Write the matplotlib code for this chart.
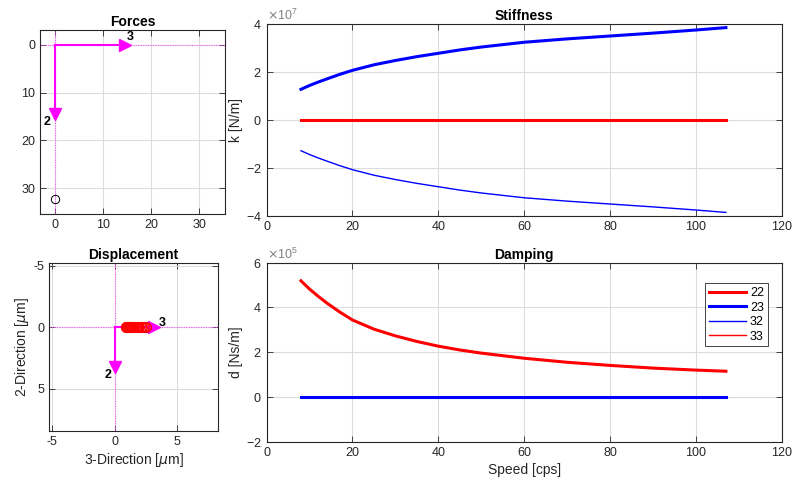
import matplotlib
matplotlib.use('Agg')
import matplotlib.pyplot as plt
import numpy as np

plt.rc('font', family=['Liberation Sans', 'DejaVu Sans'])
plt.rc('font', size=9)
plt.rc('axes', unicode_minus=False)
plt.rc('mathtext', fontset='dejavusans')

# bearing coefficients vs speed
speed = [8, 10, 12, 14, 17, 20, 25, 30, 35, 40, 45, 50, 60, 70, 80, 90, 100, 107]
k22 = [0] * 18
k23 = [1.28e7, 1.44e7, 1.58e7, 1.71e7, 1.9e7, 2.07e7, 2.3e7, 2.48e7, 2.64e7, 2.78e7, 2.92e7, 3.04e7,
	3.24e7, 3.38e7, 3.5e7, 3.62e7, 3.75e7, 3.85e7]
k32 = [-1.28e7, -1.44e7, -1.58e7, -1.71e7, -1.9e7, -2.07e7, -2.3e7, -2.48e7, -2.64e7, -2.78e7, -2.92e7, -3.04e7,
	-3.24e7, -3.38e7, -3.5e7, -3.62e7, -3.75e7, -3.85e7]
k33 = [0] * 18
d22 = [5.19e5, 4.82e5, 4.5e5, 4.2e5, 3.8e5, 3.44e5, 3.03e5, 2.73e5, 2.48e5, 2.27e5, 2.1e5, 1.96e5,
	1.73e5, 1.55e5, 1.41e5, 1.29e5, 1.2e5, 1.15e5]
d23 = [0] * 18
d32 = [0] * 18
d33 = [5.19e5, 4.82e5, 4.5e5, 4.2e5, 3.8e5, 3.44e5, 3.03e5, 2.73e5, 2.48e5, 2.27e5, 2.1e5, 1.96e5,
	1.73e5, 1.55e5, 1.41e5, 1.29e5, 1.2e5, 1.15e5]

# forces (direction 3, direction 2) and shaft position
force3 = 14.5
force2 = 14.5
pos3 = 0.0
pos2 = 32.3

# displacement orbit points [um]
disp3 = [0.9, 0.95, 1.0, 1.05, 1.1, 1.15, 1.2, 1.25, 1.3, 1.4, 1.5, 1.6, 1.7, 1.8, 1.9, 2.0, 2.1, 2.2, 2.35, 2.5]
disp2 = [0] * 20
dvec3 = 3.2
dvec2 = 3.2

TXT = '#262626'
GRID = '#dcdcdc'


def style(ax):
	for s in ax.spines.values():
		s.set_color(TXT)
		s.set_linewidth(0.8)
	ax.tick_params(direction='in', top=True, right=True, colors=TXT, labelcolor=TXT, length=4, width=0.6)
	ax.grid(True, color=GRID, linewidth=0.8)
	ax.set_axisbelow(True)


def crosshair(ax):
	ax.axhline(0, color='#ff55ff', linewidth=0.8, dashes=(1, 1.2), zorder=1.5)
	ax.axvline(0, color='#ff55ff', linewidth=0.8, dashes=(1, 1.2), zorder=1.5)


fig = plt.figure(figsize=(7.96, 4.84), dpi=100)

# --- Forces
ax1 = fig.add_axes([0.0503, 0.5579, 0.2324, 0.380])
style(ax1)
crosshair(ax1)
ax1.plot([0, force3], [0, 0], color='magenta', linewidth=1.5)
ax1.plot([force3], [0], marker='>', color='magenta', markersize=8)
ax1.plot([0, 0], [0, force2], color='magenta', linewidth=1.5)
ax1.plot([0], [force2], marker='v', color='magenta', markersize=8)
ax1.text(force3 + 1.1, -1.6, '3', fontweight='bold', ha='center', va='center', fontsize=9)
ax1.text(-1.8, force2 + 1.6, '2', fontweight='bold', ha='center', va='center', fontsize=9)
ax1.plot([pos3], [pos2], marker='o', mfc='none', mec='black', markersize=6, markeredgewidth=0.7)
ax1.set_xlim(-3.2, 35.4)
ax1.set_ylim(35.4, -3.1)
ax1.set_xticks([0, 10, 20, 30])
ax1.set_yticks([0, 10, 20, 30])
ax1.set_title('Forces', fontweight='bold', fontsize=10, pad=3)

# --- Displacement
ax2 = fig.add_axes([0.0616, 0.1095, 0.2123, 0.3477])
style(ax2)
crosshair(ax2)
ax2.plot([0, dvec3], [0, 0], color='magenta', linewidth=1.5)
ax2.plot([dvec3], [0], marker='>', color='magenta', markersize=8)
ax2.plot([0, 0], [0, dvec2], color='magenta', linewidth=1.5)
ax2.plot([0], [dvec2], marker='v', color='magenta', markersize=8)
ax2.plot(disp3, disp2, linestyle='none', marker='o', mfc='none', mec='red', markersize=7, markeredgewidth=1)
ax2.text(dvec3 + 0.6, -0.35, '3', fontweight='bold', ha='center', va='center', fontsize=9)
ax2.text(-0.5, dvec2 + 0.7, '2', fontweight='bold', ha='center', va='center', fontsize=9)
ax2.set_xlim(-5.25, 8.3)
ax2.set_ylim(8.45, -5.25)
ax2.set_xticks([-5, 0, 5])
ax2.set_yticks([-5, 0, 5])
ax2.set_xlabel(r'3-Direction [$\mu$m]', fontsize=10, color=TXT, labelpad=2)
ax2.set_ylabel(r'2-Direction [$\mu$m]', fontsize=10, color=TXT, labelpad=2)
ax2.set_title('Displacement', fontweight='bold', fontsize=10, pad=3)

# --- Stiffness
ax3 = fig.add_axes([0.335, 0.5537, 0.647, 0.3967])
style(ax3)
ax3.plot(speed, k22, color='red', linewidth=2.2)
ax3.plot(speed, k23, color='blue', linewidth=2.2)
ax3.plot(speed, k32, color='blue', linewidth=1.0)
ax3.plot(speed, k33, color='red', linewidth=1.0)
ax3.set_xlim(0, 120)
ax3.set_ylim(-4e7, 4e7)
ax3.set_yticks([-4e7, -2e7, 0, 2e7, 4e7])
ax3.ticklabel_format(axis='y', style='sci', scilimits=(0, 0), useMathText=True)
ax3.yaxis.get_offset_text().set_color('#808080')
ax3.set_ylabel('k [N/m]', fontsize=10, color=TXT, labelpad=2)
ax3.set_title('Stiffness', fontweight='bold', fontsize=10, pad=3)

# --- Damping
ax4 = fig.add_axes([0.335, 0.0874, 0.647, 0.3698])
style(ax4)
ax4.plot(speed, d22, color='red', linewidth=2.2, label='22')
ax4.plot(speed, d23, color='blue', linewidth=2.2, label='23')
ax4.plot(speed, d32, color='blue', linewidth=1.0, label='32')
ax4.plot(speed, d33, color='red', linewidth=1.0, label='33', zorder=1)
ax4.set_xlim(0, 120)
ax4.set_ylim(-2e5, 6e5)
ax4.set_yticks([-2e5, 0, 2e5, 4e5, 6e5])
ax4.ticklabel_format(axis='y', style='sci', scilimits=(0, 0), useMathText=True)
ax4.yaxis.get_offset_text().set_color('#808080')
ax4.set_ylabel('d [Ns/m]', fontsize=10, color=TXT, labelpad=2)
ax4.set_xlabel('Speed [cps]', fontsize=10, color=TXT, labelpad=3)
ax4.set_title('Damping', fontweight='bold', fontsize=10, pad=3)
leg = ax4.legend(loc='upper right', bbox_to_anchor=(0.985, 0.92), fontsize=9, fancybox=False,
	framealpha=1, edgecolor=TXT, handlelength=3.0, handletextpad=0.3, borderpad=0.3, labelspacing=0.2)
leg.get_frame().set_linewidth(0.6)

fig.savefig('out.png', dpi=100)
